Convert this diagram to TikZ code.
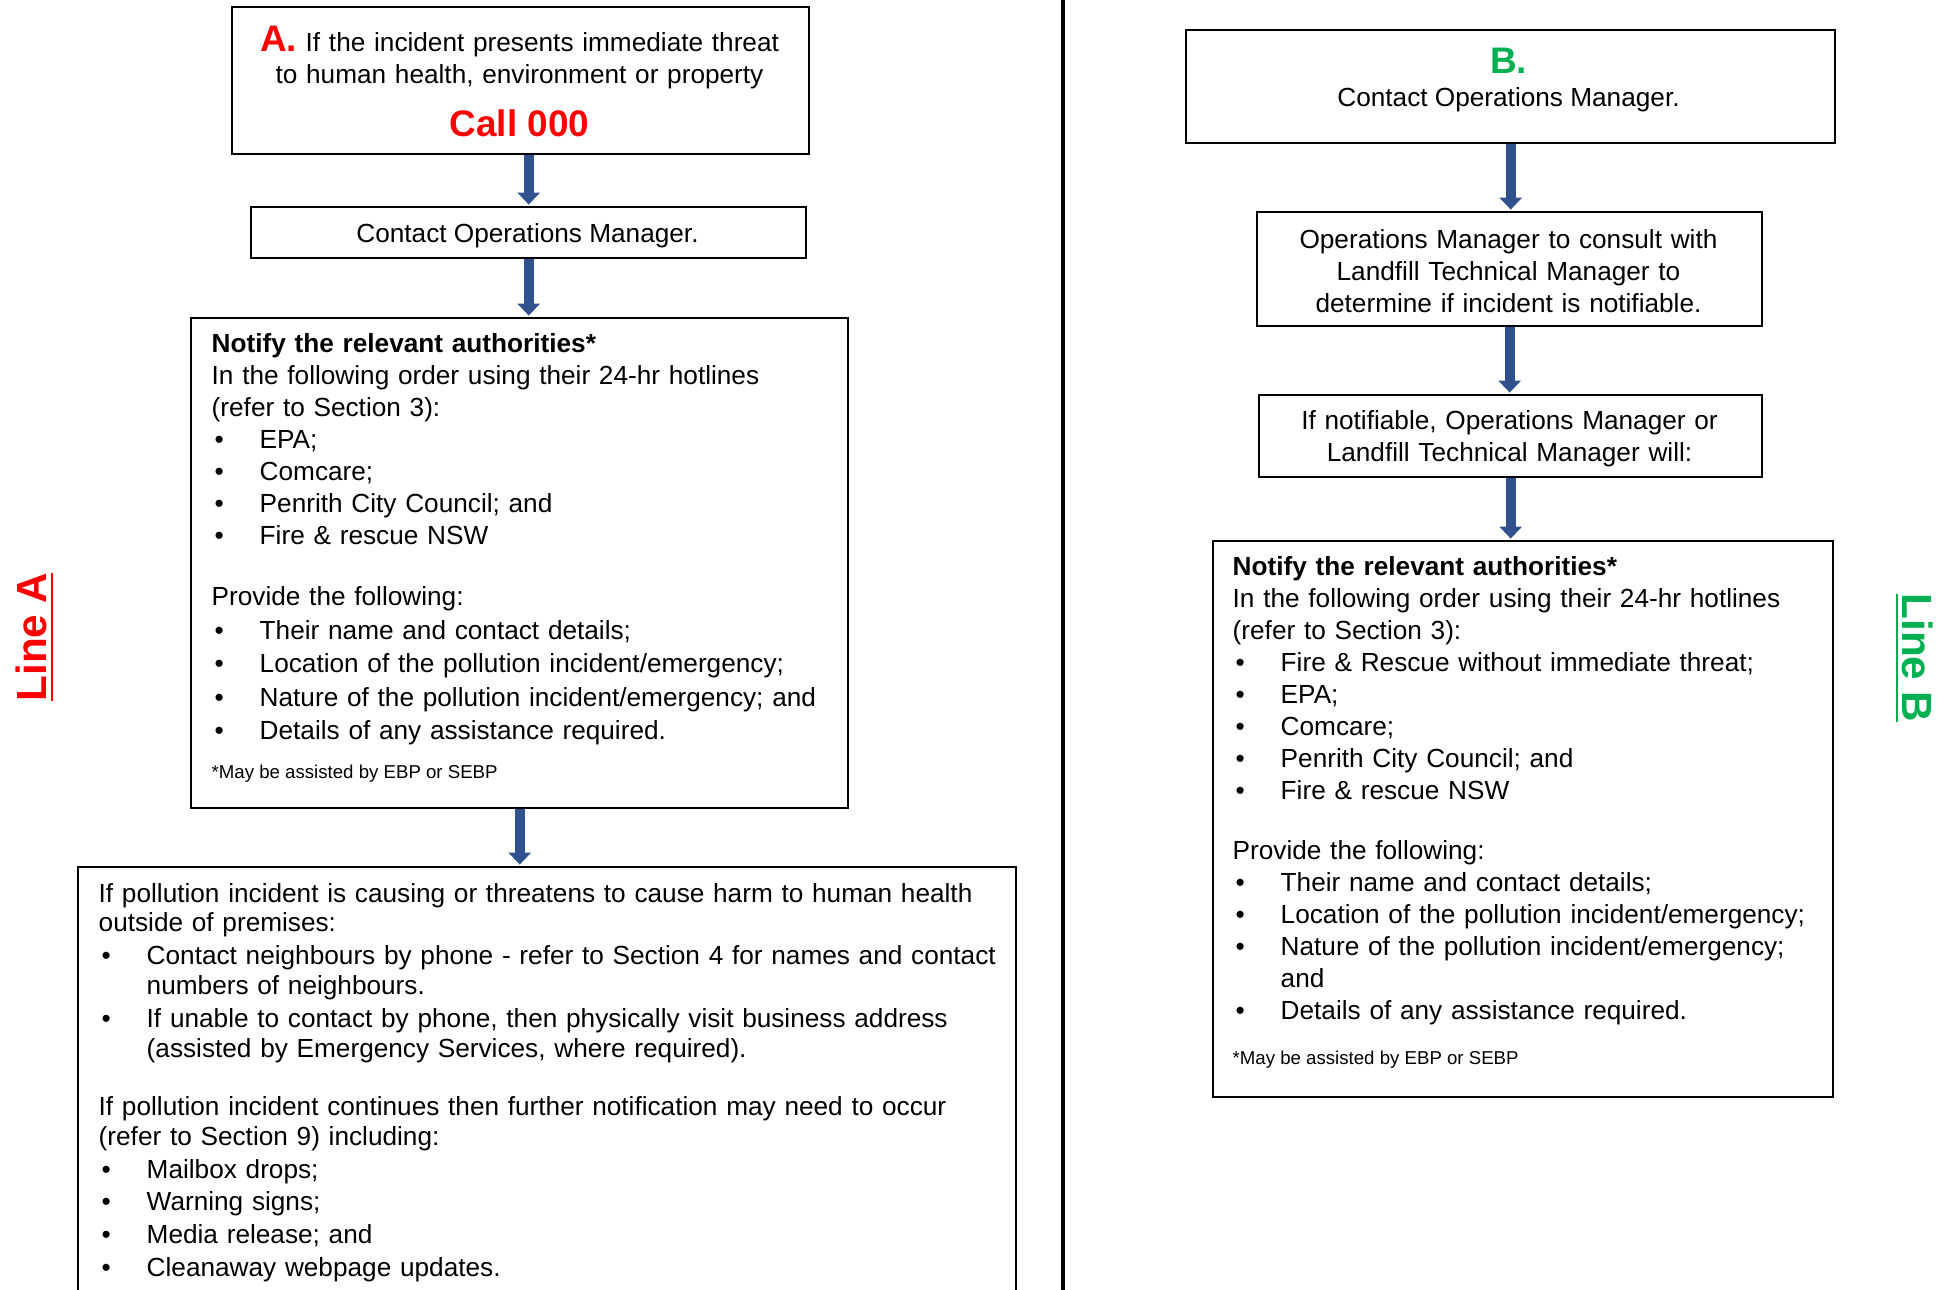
\documentclass[tikz,border=0pt]{standalone}
\usepackage{fontspec}
\setmainfont{Liberation Sans}
\usetikzlibrary{arrows.meta}
\usetikzlibrary{positioning}
\definecolor{alertred}{RGB}{255,0,0}
\definecolor{lineBgreen}{RGB}{0,176,80}
\definecolor{arrowblue}{RGB}{47,82,143}
\newcommand{\bitem}{\hspace*{0.03cm}\makebox[0.45cm][l]{\textbullet}}
\newcommand{\bindent}{\hspace*{0.48cm}}
\newcommand{\headfont}{\fontsize{10.5}{12}\selectfont\bfseries}

\begin{document}
\begin{tikzpicture}[x=0.01cm, y=-0.01cm,
    box/.style={draw, line width=0.6pt, inner sep=0pt, anchor=north west},
    body/.style={font=\fontsize{7.45}{9.1}\selectfont, inner sep=0pt},
    note/.style={font=\fontsize{5.3}{6.4}\selectfont, inner sep=0pt, anchor=base west},
    flow/.style={arrowblue, line width=0.1cm, -{Triangle[width=0.22cm, length=0.12cm]}, shorten >=0.4pt}]
					\useasboundingbox (0,0) rectangle (1950,1290);
					\clip (0,0) rectangle (1950,1290);
					\draw[line width=1.1pt] (1063,0) -- (1063,1290);
					\node[rotate=90, font=\fontsize{12}{14}\selectfont\bfseries, text=alertred] (lineA) at (35,637) {\underline{Line A}};
					\node[rotate=-90, font=\fontsize{12}{14}\selectfont\bfseries, text=lineBgreen] (lineB) at (1914,658) {\underline{Line B}};
					\node[box, minimum width=5.77cm, minimum height=1.47cm] (a1) at (231,6) {};
					\node[box, minimum width=5.55cm, minimum height=0.51cm] (a2) at (250,206) {};
					\node[box, minimum width=6.57cm, minimum height=4.90cm] (a3) at (190,317) {};
					\node[box, minimum width=9.37cm, minimum height=5.00cm] (a4) at (77,866) {};
					\node[box, minimum width=6.49cm, minimum height=1.13cm] (b1) at (1185,29) {};
					\node[box, minimum width=5.05cm, minimum height=1.14cm] (b2) at (1256,211) {};
					\node[box, minimum width=5.03cm, minimum height=0.82cm] (b3) at (1258,394) {};
					\node[box, minimum width=6.20cm, minimum height=5.56cm] (b4) at (1212,540) {};
					\draw[flow] (a2.north |- a1.south) -- (a2.north);
					\draw[flow] (a2.south) -- (a2.south |- a3.north);
					\draw[flow] (a3.south) -- (a3.south |- a4.north);
					\draw[flow] (b1.south) -- (b1.south |- b2.north);
					\draw[flow] (b2.south) -- (b2.south |- b3.north);
					\draw[flow] (b3.south) -- (b3.south |- b4.north);
					\node[body, text width=6cm, align=center, anchor=base] (a1txt) at (519.5,51) {\textcolor{alertred}{\headfont A.} If the incident presents immediate threat\\ to human health, environment or property};
					\node[font=\headfont, text=alertred, inner sep=0pt, anchor=base] (a1call) at (519.5,136) {Call 000};
					\node[body, anchor=base] (a2txt) at (527.5,242) {Contact Operations Manager.};
					\node[body, text width=6.5cm, align=left, anchor=base west] (a3txt) at (211,352) {\textbf{Notify the relevant authorities*}\\
						In the following order using their 24-hr hotlines\\
						(refer to Section 3):\\
						\bitem EPA;\\
						\bitem Comcare;\\
						\bitem Penrith City Council; and\\
						\bitem Fire \& rescue NSW\\[8.5pt]
						Provide the following:\\[0.4pt]
						\bitem Their name and contact details;\\[0.4pt]
						\bitem Location of the pollution incident/emergency;\\[0.4pt]
						\bitem Nature of the pollution incident/emergency; and\\[0.4pt]
						\bitem Details of any assistance required.};
					\node[note] (a3note) at (211,778) {*May be assisted by EBP or SEBP};
					\node[body, font=\fontsize{7.45}{8.5}\selectfont, text width=9.5cm, align=left, anchor=base west] (a4txt) at (98,902) {If pollution incident is causing or threatens to cause harm to human health\\
						outside of premises:\\[0.8pt]
						\bitem Contact neighbours by phone - refer to Section 4 for names and contact\\
						\bindent numbers of neighbours.\\[0.8pt]
						\bitem If unable to contact by phone, then physically visit business address\\
						\bindent (assisted by Emergency Services, where required).\\[8.1pt]
						If pollution incident continues then further notification may need to occur\\
						(refer to Section 9) including:\\[0.8pt]
						\bitem Mailbox drops;\\[0.8pt]
						\bitem Warning signs;\\[0.8pt]
						\bitem Media release; and\\[0.8pt]
						\bitem Cleanaway webpage updates.};
					\node[font=\headfont, text=lineBgreen, inner sep=0pt, anchor=base] (b1lbl) at (1508.5,73.5) {B.};
					\node[body, anchor=base] (b1txt) at (1508.5,106) {Contact Operations Manager.};
					\node[body, text width=5cm, align=center, anchor=base] (b2txt) at (1508.5,248) {Operations Manager to consult with\\ Landfill Technical Manager to\\ determine if incident is notifiable.};
					\node[body, text width=5cm, align=center, anchor=base] (b3txt) at (1509.5,429) {If notifiable, Operations Manager or\\ Landfill Technical Manager will:};
					\node[body, text width=6.5cm, align=left, anchor=base west] (b4txt) at (1232,575) {\textbf{Notify the relevant authorities*}\\
						In the following order using their 24-hr hotlines\\
						(refer to Section 3):\\
						\bitem Fire \& Rescue without immediate threat;\\
						\bitem EPA;\\
						\bitem Comcare;\\
						\bitem Penrith City Council; and\\
						\bitem Fire \& rescue NSW\\[8.2pt]
						Provide the following:\\
						\bitem Their name and contact details;\\
						\bitem Location of the pollution incident/emergency;\\
						\bitem Nature of the pollution incident/emergency;\\
						\bindent and\\
						\bitem Details of any assistance required.};
					\node[note] (b4note) at (1232,1064) {*May be assisted by EBP or SEBP};
				\end{tikzpicture}
\end{document}
